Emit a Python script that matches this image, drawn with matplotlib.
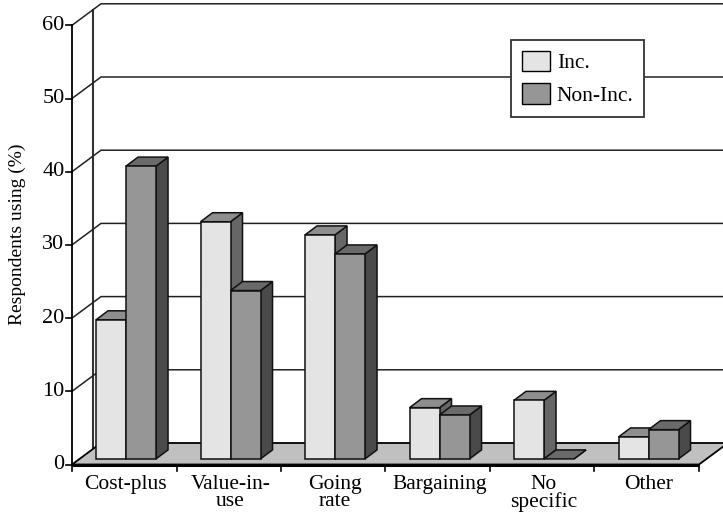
import matplotlib
matplotlib.use("Agg")
import matplotlib.pyplot as plt
from matplotlib.patches import Polygon, Patch

plt.rcParams["font.family"] = ["Liberation Serif", "DejaVu Serif"]

categories = ["Cost-plus", "Value-in-\nuse", "Going\nrate", "Bargaining", "No\nspecific", "Other"]
inc = [19, 32.4, 30.6, 7, 8, 3]
non_inc = [40, 23, 28, 6, 0, 4]
y_ticks = [0, 10, 20, 30, 40, 50, 60]

W, H = 723, 516
cat_px = 104.5   # px per category
val_px = 7.32    # px per percentage point
x0_px, y0_px = 72, 464.5

fig = plt.figure(figsize=(W / 100, H / 100), dpi=100)
ax = fig.add_axes([0, 0, 1, 1])
ax.set_xlim(-x0_px / cat_px, (W - x0_px) / cat_px)
ax.set_ylim(-(H - y0_px) / val_px, y0_px / val_px)
ax.axis("off")

# depth of the pseudo 3D box, and of each bar
box_dx, box_dy = 29 / cat_px, 21.5 / val_px
bar_dx, bar_dy = 12 / cat_px, 9 / val_px
bar_w = 30 / cat_px
bar_base = 5.6 / val_px
n = len(categories)
line_col = "#333333"
txt_col = "black"

# back wall
wall_x = 21 / cat_px
ax.plot([wall_x, wall_x], [2.3, 60 + 2.1], color=line_col, lw=1.5, zorder=1)
for v in y_ticks[1:]:
    ax.plot([0, box_dx, W], [v, v + box_dy, v + box_dy], color="#222222", lw=1.1, zorder=1)

# floor
ax.add_patch(Polygon([(0, 0), (n, 0), (n + box_dx, box_dy), (box_dx, box_dy)],
                     facecolor="#c0c0c0", edgecolor="black", lw=1.3, zorder=2))


def draw_bar(left, val, front, top, side):
    b = bar_base
    t = b + val
    r = left + bar_w
    ax.add_patch(Polygon([(r, b), (r + bar_dx, b + bar_dy), (r + bar_dx, t + bar_dy), (r, t)],
                         facecolor=side, edgecolor="#111111", lw=1.1, zorder=3))
    ax.add_patch(Polygon([(left, t), (r, t), (r + bar_dx, t + bar_dy), (left + bar_dx, t + bar_dy)],
                         facecolor=top, edgecolor="#111111", lw=1.1, zorder=3))
    if val > 0:
        ax.add_patch(Polygon([(left, b), (r, b), (r, t), (left, t)],
                             facecolor=front, edgecolor="#111111", lw=1.1, zorder=3))


for i in range(n):
    c = i + 0.517
    draw_bar(c - bar_w, inc[i], "#e4e4e4", "#8e8e8e", "#666666")
    draw_bar(c, non_inc[i], "#969696", "#6a6a6a", "#4a4a4a")

# front axes
ax.plot([0, n], [0, 0], color="black", lw=2.2, zorder=4, solid_capstyle="butt")
ax.plot([0, 0], [0, 60], color="black", lw=1.3, zorder=4)
for v in y_ticks:
    ax.plot([-6 / cat_px, 0], [v, v], color="black", lw=1.2, zorder=4)
    ax.text(-7.5 / cat_px, v, str(v), ha="right", va="center", fontsize=16, color=txt_col)
for i in range(n + 1):
    ax.plot([i, i], [0, -6 / val_px], color="black", lw=1.2, zorder=4)

for i, name in enumerate(categories):
    ax.text(i + 0.515, -1.45, name, ha="center", va="top", fontsize=15.5, linespacing=0.84,
            color=txt_col)

ax.text(17 / W, 1 - 234 / H, "Respondents using (%)", transform=fig.transFigure, rotation=90,
        ha="center", va="center", fontsize=14, color=txt_col)

handles = [Patch(facecolor="#e4e4e4", edgecolor="black", label="Inc."),
           Patch(facecolor="#969696", edgecolor="black", label="Non-Inc.")]
leg = ax.legend(handles=handles, loc="upper left", bbox_to_anchor=(511 / W, 1 - 40 / H),
                bbox_transform=fig.transFigure, fontsize=15.5, fancybox=False, framealpha=1,
                edgecolor="#333333", borderaxespad=0, handlelength=1.33, handleheight=1.1,
                handletextpad=0.3, labelspacing=0.45, borderpad=0.5)
leg.set_zorder(5)
leg.get_frame().set_linewidth(1.3)
for t in leg.get_texts():
    t.set_color(txt_col)

fig.savefig("out.png", dpi=100)
